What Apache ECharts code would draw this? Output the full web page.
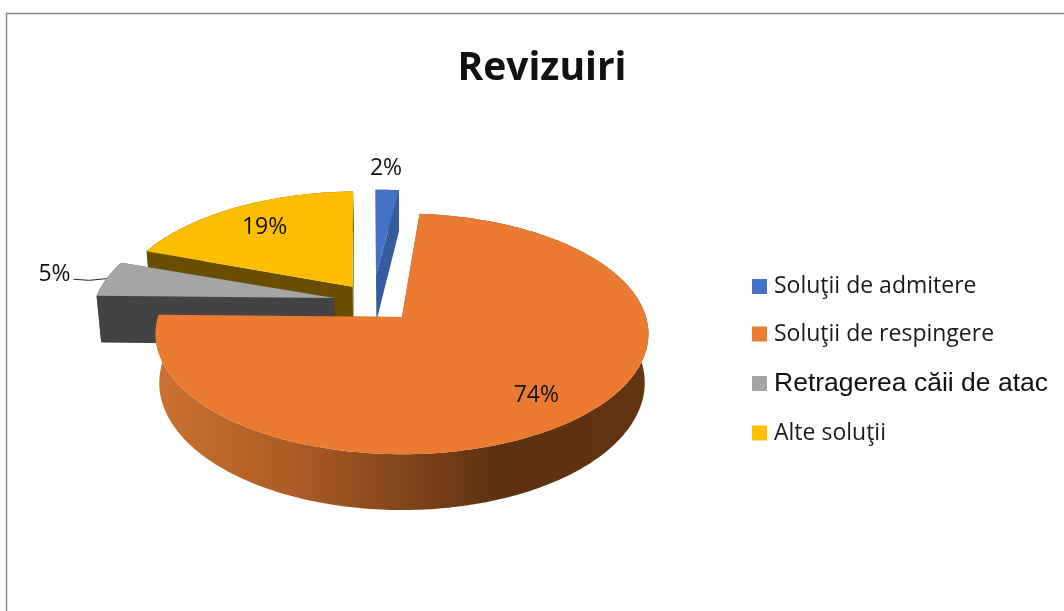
<!DOCTYPE html>
<html><head><meta charset="utf-8">
<style>html,body{margin:0;padding:0;background:#fff}#c{width:1064px;height:611px}</style>
<script src="https://cdn.jsdelivr.net/npm/echarts@6/dist/echarts.min.js"></script>
</head><body><div id="c"></div>
<script>
const titleText = 'Revizuiri';
const categories = ['Soluţii de admitere', 'Soluţii de respingere', 'Retragerea căii de atac', 'Alte soluţii'];
const values = [2, 74, 5, 19];
const topColors = ['#4472c4', '#eb7b31', '#a5a5a5', '#fcbe00'];
const legendColors = ['#4472c4', '#ed7d31', '#a5a5a5', '#ffc000'];
const wallColors = ['#355c9f', '#8a4a1e', '#434343', '#6a4e00'];
const paintOrder = [3, 4, 2, 1];
// projection and layout of the pie
const cx = 402, cy = 317, R = 244, H = 118, K = 0.14, D = 48, BOTTOM_X = 0.985;
const startDeg = -2.5;
const explode = [[-0.112, 0.37], [0, 0], [-0.284, 0.165], [-0.21, 0.265]];
const sliceRadius = [0.9, 1, 1, 0.985];
const sliceTurn = [1.5, 0, 0, 1];
const labelSpot = [[1.16, -1], [0.79, 2.5], [1.235, -0.02], [0.72, 0]];
const total = values.reduce((a, b) => a + b, 0);
function project(u, v, z) {
  const s = 1 / (1 + K * v);
  return [cx + R * u * s * (z ? BOTTOM_X : 1), cy - H * v * s + D * z * s];
}
function spot(i, a, r, z) {
  const t = a * Math.PI / 180;
  return project(explode[i][0] + r * Math.sin(t), explode[i][1] + r * Math.cos(t), z);
}
function bounds(i) {
  let acc = 0;
  for (let k = 0; k < i; k++) acc += values[k];
  return [startDeg + sliceTurn[i] + acc / total * 360, startDeg + sliceTurn[i] + (acc + values[i]) / total * 360];
}
function arc(i, a0, a1, z) {
  const out = [], n = Math.max(4, Math.ceil(Math.abs(a1 - a0)));
  for (let k = 0; k <= n; k++) out.push(spot(i, a0 + (a1 - a0) * k / n, sliceRadius[i], z));
  return out;
}
function renderSlice(i) {
  return function (params, api) {
    const v = api.value(0);
    const b = bounds(i), a0 = b[0], a1 = a0 + v / total * 360, mid = (a0 + a1) / 2;
    const apex = spot(i, 0, 0, 0), apexB = spot(i, 0, 0, 1);
    const wallFill = i === 1 ? new echarts.graphic.LinearGradient(0, 0, 1, 0, [
      { offset: 0, color: '#cb7230' }, { offset: 0.3, color: '#a95a24' },
      { offset: 0.7, color: '#5c3012' }, { offset: 1, color: '#643411' }]) : wallColors[i];
    const topArc = arc(i, a0, a1, 0), botArc = arc(i, a0, a1, 1);
    const ls = spot(i, mid + labelSpot[i][1], labelSpot[i][0], 0);
    const children = [
      { type: 'polygon', shape: { points: topArc.concat(botArc.slice().reverse()) }, style: { fill: wallFill } },
      { type: 'polygon', shape: { points: [apex, topArc[0], botArc[0], apexB] }, style: { fill: wallColors[i] } },
      { type: 'polygon', shape: { points: [apex, topArc[topArc.length - 1], botArc[botArc.length - 1], apexB] }, style: { fill: wallColors[i] } },
      { type: 'polygon', shape: { points: [apex].concat(topArc) }, style: { fill: topColors[i] } },
      { type: 'text', z2: 50, style: { text: v + '%', x: ls[0], y: ls[1], fill: '#111', font: '23px "Open Sans","Noto Sans",sans-serif', align: 'center', verticalAlign: 'middle' } }
    ];
    if (i === 2) {
      const edge = spot(i, mid, 1, 0);
      children.push({ type: 'polyline', z2: 40, shape: { points: [[ls[0] + 19, ls[1] + 5], [ls[0] + 35, ls[1] + 6], edge] }, style: { stroke: '#222', lineWidth: 1, fill: 'none' } });
    }
    return { type: 'group', children };
  };
}
const chart = echarts.init(document.getElementById('c'), null, { renderer: 'canvas' });
const legendFont = '"Open Sans","Noto Sans",sans-serif';
chart.setOption({
  animation: false,
  backgroundColor: '#fff',
  title: { text: titleText, left: 537, top: 37, textAlign: 'center',
    textStyle: { fontFamily: legendFont, fontWeight: 'bold', fontSize: 39, color: '#111', lineHeight: 54 } },
  legend: {
    orient: 'vertical', left: 747, top: 270, icon: 'rect', itemWidth: 15, itemHeight: 15, itemGap: 24.5,
    selectedMode: false,
    textStyle: { fontFamily: legendFont, fontSize: 23, color: '#1a1a1a', padding: [0, 0, 0, 2] },
    data: categories.map((name, i) => i === 2
      ? { name, textStyle: { fontFamily: '"Liberation Sans",Arial,sans-serif', fontSize: 26.5, color: '#111' } }
      : { name })
  },
  series: categories.map((name, i) => ({
    type: 'custom', name, coordinateSystem: 'none', z: paintOrder[i],
    itemStyle: { color: legendColors[i] }, silent: true,
    data: [[values[i]]], renderItem: renderSlice(i)
  })),
  graphic: [
    { type: 'line', shape: { x1: 6, y1: 13.5, x2: 1064, y2: 13.5 }, style: { stroke: '#8c8c8c', lineWidth: 1.5 }, z: 0 },
    { type: 'line', shape: { x1: 6.5, y1: 13, x2: 6.5, y2: 611 }, style: { stroke: '#8c8c8c', lineWidth: 1.5 }, z: 0 }
  ]
});
</script></body></html>
